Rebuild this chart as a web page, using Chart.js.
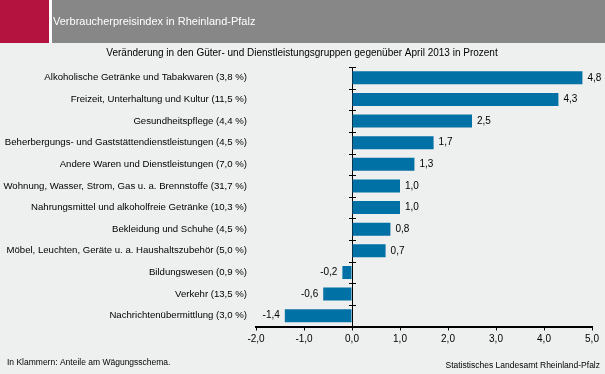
<!DOCTYPE html>
<html>
<head>
<meta charset="utf-8">
<script src="https://cdn.jsdelivr.net/npm/chart.js@4"></script>
<style>
  html, body { margin: 0; padding: 0; background: #eef0ef; }
  #wrap { width: 605px; height: 374px; }
</style>
</head>
<body>
<div id="wrap"><canvas id="myChart" width="605" height="374"></canvas></div>
<script>
// Data
const categories = [
    "Alkoholische Getränke und Tabakwaren (3,8 %)",
    "Freizeit, Unterhaltung und Kultur (11,5 %)",
    "Gesundheitspflege (4,4 %)",
    "Beherbergungs- und Gaststättendienstleistungen (4,5 %)",
    "Andere Waren und Dienstleistungen (7,0 %)",
    "Wohnung, Wasser, Strom, Gas u. a. Brennstoffe (31,7 %)",
    "Nahrungsmittel und alkoholfreie Getränke (10,3 %)",
    "Bekleidung und Schuhe (4,5 %)",
    "Möbel, Leuchten, Geräte u. a. Haushaltszubehör (5,0 %)",
    "Bildungswesen (0,9 %)",
    "Verkehr (13,5 %)",
    "Nachrichtenübermittlung (3,0 %)"
];
const changes = [4.8, 4.3, 2.5, 1.7, 1.3, 1.0, 1.0, 0.8, 0.7, -0.2, -0.6, -1.4];
const xTicks = [-2, -1, 0, 1, 2, 3, 4, 5];

const title = "Verbraucherpreisindex in Rheinland-Pfalz";
const subtitle = "Veränderung in den Güter- und Dienstleistungsgruppen gegenüber April 2013 in Prozent";
const noteLeft = "In Klammern: Anteile am Wägungsschema.";
const noteRight = "Statistisches Landesamt Rheinland-Pfalz";

const FONT = "'Liberation Sans', Arial, sans-serif";
const fmt = v => v.toFixed(1).replace(".", ",");

// Header, footnotes, value labels, y-axis ticks
const decor = {
    id: "decor",
    beforeDraw(chart) {
        const c = chart.ctx;
        c.save();
        c.fillStyle = "#eef0ef";
        c.fillRect(0, 0, chart.width, chart.height);
        c.fillStyle = "#b5133f";
        c.fillRect(0, 0, 49, 43);
        c.fillStyle = "#ffffff";
        c.fillRect(49, 0, 3, 43);
        c.fillStyle = "#878787";
        c.fillRect(52, 0, chart.width - 52, 43);

        c.fillStyle = "#ffffff";
        c.font = "11px " + FONT;
        c.textBaseline = "middle";
        c.textAlign = "left";
        c.fillText(title, 53, 22);

        c.fillStyle = "#000";
        c.font = "10px " + FONT;
        c.textAlign = "center";
        c.fillText(subtitle, 302, 53);

        c.font = "8.5px " + FONT;
        c.textAlign = "left";
        c.fillText(noteLeft, 7, 363);
        c.textAlign = "right";
        c.fillText(noteRight, 600, 366);
        c.restore();
    },
    afterDatasetsDraw(chart) {
        const c = chart.ctx;
        const x = chart.scales.x;
        const y = chart.scales.y;
        const x0 = x.getPixelForValue(0);
        c.save();
        // axis ticks at category boundaries
        c.strokeStyle = "#000";
        c.lineWidth = 1;
        const step = (y.bottom - y.top) / categories.length;
        for (let i = 0; i < categories.length; i++) {
            const yy = Math.round(y.top + i * step) + 0.5;
            c.beginPath();
            c.moveTo(x0 - 3, yy);
            c.lineTo(x0 + 4, yy);
            c.stroke();
        }
        // value labels
        c.fillStyle = "#000";
        c.font = "10px " + FONT;
        c.textBaseline = "middle";
        const meta = chart.getDatasetMeta(0);
        meta.data.forEach((bar, i) => {
            const v = changes[i];
            if (v >= 0) {
                c.textAlign = "left";
                c.fillText(fmt(v), bar.x + 5, bar.y);
            } else {
                c.textAlign = "right";
                c.fillText(fmt(v), bar.x - 5, bar.y);
            }
        });
        c.restore();
    }
};

const ctx = document.getElementById("myChart").getContext("2d");
const chart = new Chart(ctx, {
    type: "bar",
    data: {
        labels: categories,
        datasets: [{
            data: changes,
            backgroundColor: "#0071a4",
            barPercentage: 0.6,
            categoryPercentage: 1.0
        }]
    },
    options: {
        indexAxis: "y",
        responsive: false,
        animation: false,
        layout: { padding: { top: 67, right: 13, left: 0, bottom: 0 } },
        plugins: {
            legend: { display: false },
            tooltip: { enabled: false }
        },
        scales: {
            x: {
                min: -2,
                max: 5,
                afterBuildTicks: s => { s.ticks = xTicks.map(v => ({ value: v })); },
                afterFit: s => { s.height = 47.5; },
                border: { display: true, color: "#000", width: 2 },
                grid: {
                    drawOnChartArea: true,
                    color: c => (c.tick && c.tick.value === 0 ? "#000" : "rgba(0,0,0,0)"),
                    tickColor: "#000",
                    tickLength: 4,
                    lineWidth: 1
                },
                ticks: {
                    color: "#000",
                    font: { family: FONT, size: 10 },
                    padding: 3,
                    maxRotation: 0,
                    callback: v => fmt(v)
                }
            },
            y: {
                afterFit: s => { s.width = 256; },
                border: { display: false },
                grid: { display: false, drawTicks: false },
                ticks: {
                    color: "#000",
                    font: { family: FONT, size: 9.6 },
                    padding: 9
                }
            }
        }
    },
    plugins: [decor]
});
</script>
</body>
</html>
